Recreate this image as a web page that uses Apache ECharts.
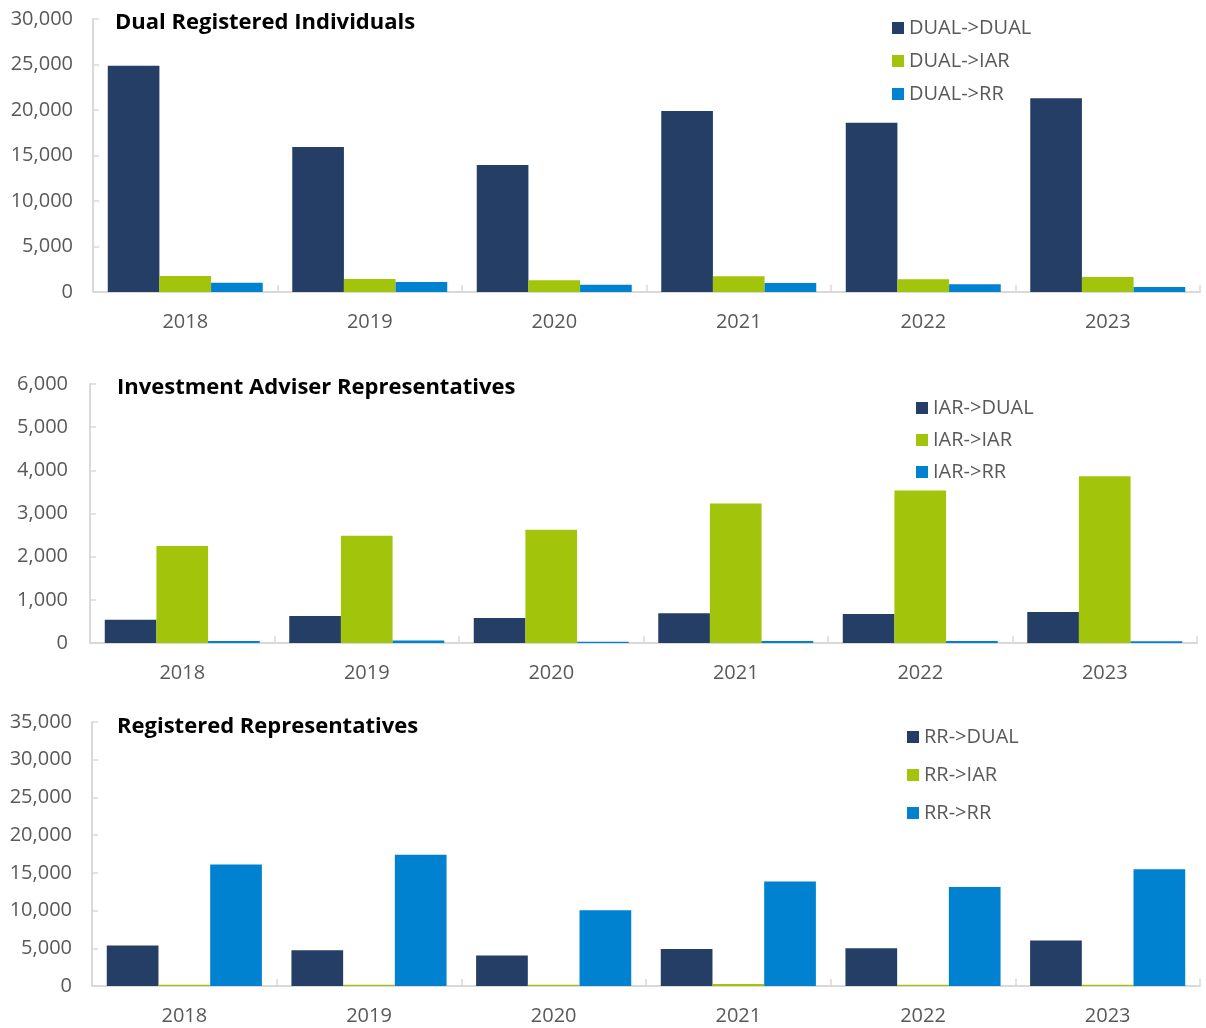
<!DOCTYPE html>
<html>
<head>
<meta charset="utf-8">
<script src="https://cdn.jsdelivr.net/npm/echarts@6/dist/echarts.min.js"></script>
<style>
  html, body { margin: 0; padding: 0; background: #fff; }
  #main { width: 1206px; height: 1028px; }
</style>
</head>
<body>
<div id="main"></div>
<script>
var years = ['2018', '2019', '2020', '2021', '2022', '2023'];

// Dual Registered Individuals
var dualNames = ['DUAL->DUAL', 'DUAL->IAR', 'DUAL->RR'];
var dualToDual = [24850, 15930, 13950, 19900, 18600, 21300];
var dualToIar = [1750, 1420, 1300, 1720, 1400, 1640];
var dualToRr = [1020, 1100, 800, 980, 860, 560];

// Investment Adviser Representatives
var iarNames = ['IAR->DUAL', 'IAR->IAR', 'IAR->RR'];
var iarToDual = [540, 625, 580, 690, 670, 720];
var iarToIar = [2245, 2485, 2625, 3230, 3530, 3865];
var iarToRr = [45, 60, 30, 45, 45, 40];

// Registered Representatives
var rrNames = ['RR->DUAL', 'RR->IAR', 'RR->RR'];
var rrToDual = [5360, 4730, 4030, 4900, 5000, 6020];
var rrToIar = [150, 150, 150, 250, 150, 150];
var rrToRr = [16100, 17400, 10040, 13840, 13130, 15470];

var colors = ['#243e66', '#a2c40a', '#0082d0'];
var font = '"Open Sans", "Noto Sans", sans-serif';

var chart = echarts.init(document.getElementById('main'));

function xAxisFor(i) {
  return {
    type: 'category',
    gridIndex: i,
    data: years,
    axisLine: { lineStyle: { color: '#d9d9d9', width: 2 } },
    axisTick: { show: true, inside: true, length: 7, lineStyle: { color: '#d9d9d9', width: 1.5 } },
    axisLabel: { color: '#595959', fontSize: 20, fontFamily: font, margin: 20 }
  };
}

function yAxisFor(i, max, interval, margin) {
  return {
    type: 'value',
    gridIndex: i,
    min: 0,
    max: max,
    interval: interval,
    splitLine: { show: false },
    axisLine: { show: true, lineStyle: { color: '#d9d9d9', width: 2 } },
    axisTick: { show: true, inside: true, length: 6, lineStyle: { color: '#d9d9d9', width: 1.5 } },
    axisLabel: {
      color: '#595959', fontSize: 20, fontFamily: font, margin: margin,
      formatter: function (v) { return v.toLocaleString('en-US'); }
    }
  };
}

function barSeries(name, data, i, color) {
  return {
    name: name,
    type: 'bar',
    xAxisIndex: i,
    yAxisIndex: i,
    data: data,
    barGap: '0%',
    barCategoryGap: '16%',
    itemStyle: { color: color },
    emphasis: { disabled: true }
  };
}

function legendFor(names, left, top, gap) {
  return {
    data: names,
    orient: 'vertical',
    left: left,
    top: top,
    itemWidth: 12,
    itemHeight: 12,
    itemGap: gap,
    icon: 'rect',
    textStyle: { color: '#595959', fontSize: 20, fontFamily: font }
  };
}

var titleStyle = { color: '#000', fontSize: 22, fontWeight: 'bold', fontFamily: font };

var option = {
  animation: false,
  color: colors,
  title: [
    { text: 'Dual Registered Individuals', left: 110, top: 7, textStyle: titleStyle },
    { text: 'Investment Adviser Representatives', left: 112, top: 372, textStyle: titleStyle },
    { text: 'Registered Representatives', left: 112, top: 711, textStyle: titleStyle }
  ],
  legend: [
    legendFor(dualNames, 887, 13, 13),
    legendFor(iarNames, 911, 393, 12),
    legendFor(rrNames, 902, 722, 18)
  ],
  grid: [
    { left: 93, right: 6, top: 19, height: 273 },
    { left: 90, right: 9, top: 384, height: 259 },
    { left: 92, right: 6, top: 722, height: 264 }
  ],
  xAxis: [xAxisFor(0), xAxisFor(1), xAxisFor(2)],
  yAxis: [yAxisFor(0, 30000, 5000, 20), yAxisFor(1, 6000, 1000, 22), yAxisFor(2, 35000, 5000, 20)],
  series: [
    barSeries(dualNames[0], dualToDual, 0, colors[0]),
    barSeries(dualNames[1], dualToIar, 0, colors[1]),
    barSeries(dualNames[2], dualToRr, 0, colors[2]),
    barSeries(iarNames[0], iarToDual, 1, colors[0]),
    barSeries(iarNames[1], iarToIar, 1, colors[1]),
    barSeries(iarNames[2], iarToRr, 1, colors[2]),
    barSeries(rrNames[0], rrToDual, 2, colors[0]),
    barSeries(rrNames[1], rrToIar, 2, colors[1]),
    barSeries(rrNames[2], rrToRr, 2, colors[2])
  ]
};

chart.setOption(option);
</script>
</body>
</html>
